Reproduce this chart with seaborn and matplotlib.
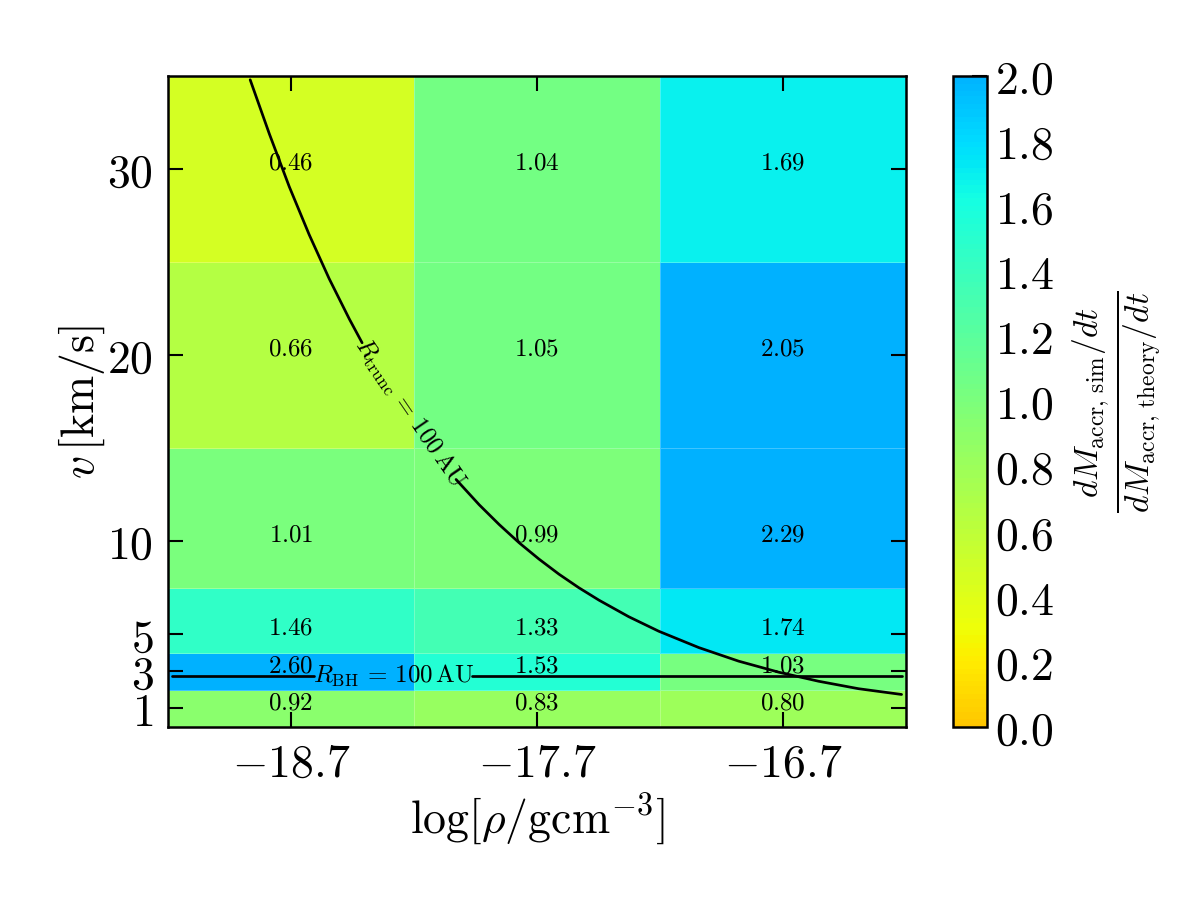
import numpy as np
import seaborn as sns
import matplotlib.pyplot as plt
from matplotlib.colors import ListedColormap

# bins of the simulation grid
log_rho_centers = [-18.7, -17.7, -16.7]
log_rho_edges = [-19.2, -18.2, -17.2, -16.2]
v_centers = [1, 3, 5, 10, 20, 30]
v_edges = [0, 2, 4, 7.5, 15, 25, 35]

# accretion rate ratio sim/theory, rows = v (bottom to top), cols = log rho
ratio = np.array([
    [0.92, 0.83, 0.80],
    [2.60, 1.53, 1.03],
    [1.46, 1.33, 1.74],
    [1.01, 0.99, 2.29],
    [0.66, 1.05, 2.05],
    [0.46, 1.04, 1.69],
])

# R_trunc = 100 AU curve (two pieces around the label)
trunc_x1 = [-18.866, -18.788, -18.707, -18.626, -18.545, -18.463, -18.411]
trunc_v1 = [34.80, 31.89, 29.05, 26.47, 24.11, 21.94, 20.66]
trunc_x2 = [-18.029, -17.935, -17.854, -17.773, -17.692, -17.611, -17.530, -17.448,
            -17.327, -17.205, -17.042, -16.880, -16.718, -16.555, -16.393, -16.218]
trunc_v2 = [13.31, 11.95, 10.89, 9.91, 9.03, 8.22, 7.49, 6.82,
            5.93, 5.15, 4.27, 3.54, 2.95, 2.46, 2.06, 1.75]

# R_BH = 100 AU line
bh_v = 2.74
bh_x1 = [-19.185, -18.605]
bh_x2 = [-17.963, -16.217]

sns.set_style("ticks")
plt.rcParams["font.family"] = ["DejaVu Serif"]
plt.rcParams["mathtext.fontset"] = "cm"
plt.rcParams["xtick.direction"] = "in"
plt.rcParams["ytick.direction"] = "in"
plt.rcParams["xtick.top"] = True
plt.rcParams["ytick.right"] = True
for k in ["text.color", "axes.labelcolor", "xtick.color", "ytick.color", "axes.edgecolor"]:
    plt.rcParams[k] = "black"

# yellow -> green -> blue slice of jet
cmap = ListedColormap(plt.cm.jet(np.linspace(0.7, 0.3, 256)))

fig = plt.figure(figsize=(8, 6), dpi=150)
ax = fig.add_axes([0.14, 0.1922, 0.615, 0.7233])
cax = fig.add_axes([0.794, 0.1922, 0.0283, 0.7233])
ax.set_axisbelow(False)

mesh = ax.pcolormesh(log_rho_edges, v_edges, ratio, cmap=cmap, vmin=0, vmax=2,
                     edgecolors=(1, 1, 1, 0.25), linewidth=0.4)

for i, v in enumerate(v_centers):
    for j, x in enumerate(log_rho_centers):
        ax.text(x, v + 0.3, r"$%.2f$" % ratio[i, j], ha="center", va="center", fontsize=12)

# curves
sns.lineplot(x=trunc_x1, y=trunc_v1, ax=ax, color="black", lw=1.3, sort=False, estimator=None)
sns.lineplot(x=trunc_x2, y=trunc_v2, ax=ax, color="black", lw=1.3, sort=False, estimator=None)
sns.lineplot(x=bh_x1, y=[bh_v, bh_v], ax=ax, color="black", lw=1.3, estimator=None)
sns.lineplot(x=bh_x2, y=[bh_v, bh_v], ax=ax, color="black", lw=1.3, estimator=None)

ax.text(-18.217, 16.85, r"$R_{\rm trunc}\,=\,100\,{\rm AU}$", rotation=-55.5,
        ha="center", va="center", fontsize=12, rotation_mode="anchor")
ax.text(-18.284, bh_v, r"$R_{\rm BH}\,=\,100\,{\rm AU}$", ha="center", va="center", fontsize=12)

ax.set_xlim(log_rho_edges[0], log_rho_edges[-1])
ax.set_ylim(v_edges[0], v_edges[-1])
ax.set_xticks(log_rho_centers)
ax.set_xticklabels([r"$%.1f$" % x for x in log_rho_centers], fontsize=22)
ax.set_yticks(v_centers)
ax.set_yticklabels([r"$%d$" % v for v in v_centers], fontsize=22)
ax.tick_params(length=7, width=1, pad=7)
ax.set_xlabel(r"$\log[\rho/{\rm g cm}^{-3}]$", fontsize=22, labelpad=2)
ax.set_ylabel(r"$v\,[{\rm km/s}]$", fontsize=22, labelpad=0)
for s in ax.spines.values():
    s.set_linewidth(1.2)

cb = fig.colorbar(mesh, cax=cax, ticks=np.arange(0, 2.01, 0.2))
cb.ax.set_yticklabels([r"$%.1f$" % t for t in np.arange(0, 2.01, 0.2)], fontsize=22)
cb.ax.tick_params(direction="in", length=7, width=1, pad=4, right=True, left=False)
cb.outline.set_linewidth(1.2)
cb.set_label(r"$\frac{dM_{\rm accr,\,sim}/dt}{dM_{\rm accr,\,theory}/dt}$", fontsize=23, labelpad=8)

fig.savefig("out.png", dpi=150)
